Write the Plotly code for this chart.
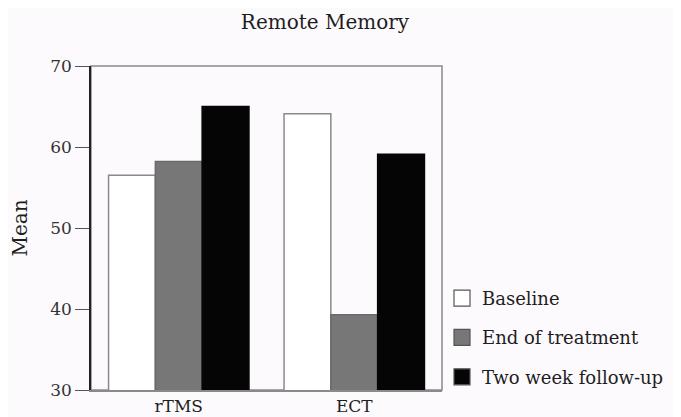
import plotly.graph_objects as go

categories = ["rTMS", "ECT"]
baseline = [56.5, 64.1]
end_of_treatment = [58.2, 39.3]
follow_up = [65.0, 59.1]
series_names = ["Baseline", "End of treatment", "Two week follow-up"]
y_ticks = [30, 40, 50, 60, 70]

FONT = "DejaVu Serif, serif"
BG = "#fdfafd"
TXT = "#1e1e1e"

# the page body adds an 8px offset, so the figure is 8px smaller and shifted
W, H = 673, 409

fig = go.Figure()
specs = [
    (baseline, "#ffffff", "#8a8a8a"),
    (end_of_treatment, "#777777", "#6a6a6a"),
    (follow_up, "#050505", "#050505"),
]
for i, (vals, fill, line) in enumerate(specs):
    fig.add_trace(go.Bar(
        x=categories, y=vals, name=series_names[i],
        marker=dict(color=fill, line=dict(color=line, width=1.5)),
        showlegend=False,
    ))
    # legend entry with a larger square swatch
    fig.add_trace(go.Scatter(
        x=[None], y=[None], mode="markers", name=series_names[i],
        marker=dict(symbol="square", size=18, color=fill,
                    line=dict(color="#555555", width=1.2)),
        legendgroup=f"g{i}", showlegend=True,
    ))

fig.update_layout(
    width=W, height=H,
    paper_bgcolor=BG, plot_bgcolor=BG,
    margin=dict(l=83, r=239, t=58, b=27, autoexpand=False),
    barmode="group", bargap=0.2, bargroupgap=0,
    font=dict(family=FONT, size=17, color=TXT),
    title=dict(text="Remote Memory", x=317 / W, xanchor="center",
               y=1 - 14 / H, yanchor="middle",
               font=dict(family=FONT, size=20, color=TXT)),
    showlegend=True,
    legend=dict(x=1.0, xanchor="left", y=0.34, yanchor="top",
                bgcolor="rgba(0,0,0,0)", traceorder="grouped",
                itemsizing="trace",
                tracegroupgap=13,
                font=dict(family=FONT, size=18, color=TXT)),
    xaxis=dict(showline=True, linecolor="#8a8a8a", linewidth=1.5,
               ticks="", showgrid=False, zeroline=False, automargin=False,
               ticklabelstandoff=0,
               tickfont=dict(family=FONT, size=17, color=TXT)),
    yaxis=dict(range=[30, 70], tickvals=y_ticks, showline=True,
               linecolor="#222", linewidth=1.5, ticks="outside",
               ticklen=14, tickcolor="#555", tickwidth=1,
               showgrid=False, zeroline=False, automargin=False,
               title=dict(text="Mean", standoff=19,
                          font=dict(family=FONT, size=20, color=TXT)),
               tickfont=dict(family=FONT, size=17, color="#333")),
    shapes=[dict(type="rect", xref="paper", yref="paper", x0=0, x1=1,
                 y0=0, y1=1, line=dict(color="#8a8a8a", width=1.5),
                 layer="below")],
)

fig.write_html("out.html")
